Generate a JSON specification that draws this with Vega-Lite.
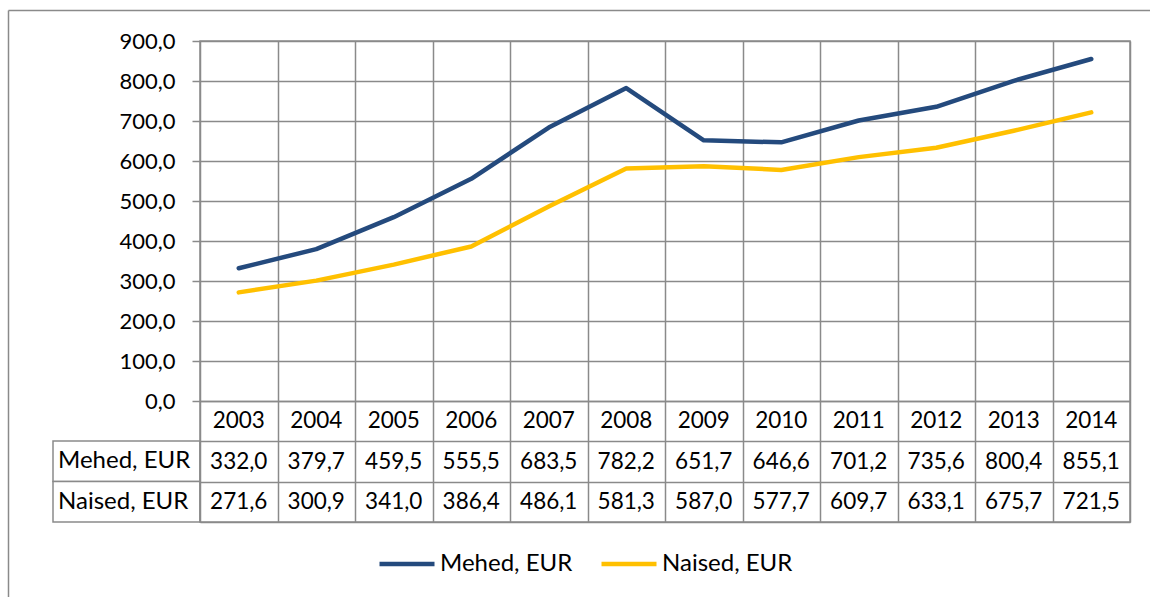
{
  "$schema": "https://vega.github.io/schema/vega-lite/v6.json",
  "padding": {"left": 7, "top": 9, "right": 0, "bottom": 0},
  "background": "white",
  "config": {
    "font": "Lato",
    "locale": {"number": {"decimal": ",", "thousands": " ", "grouping": [3], "currency": ["", " €"]}},
    "view": {"stroke": "#8a8a8a", "strokeWidth": 1.5},
    "axis": {"gridColor": "#8a8a8a", "gridWidth": 1.5, "gridOpacity": 1, "labelFont": "Lato", "labelColor": "#000000", "labelFontSize": 22, "title": null}
  },
  "datasets": {
    "d": [
      {"year": "2003", "series": "Mehed, EUR", "value": 332.0},
      {"year": "2004", "series": "Mehed, EUR", "value": 379.7},
      {"year": "2005", "series": "Mehed, EUR", "value": 459.5},
      {"year": "2006", "series": "Mehed, EUR", "value": 555.5},
      {"year": "2007", "series": "Mehed, EUR", "value": 683.5},
      {"year": "2008", "series": "Mehed, EUR", "value": 782.2},
      {"year": "2009", "series": "Mehed, EUR", "value": 651.7},
      {"year": "2010", "series": "Mehed, EUR", "value": 646.6},
      {"year": "2011", "series": "Mehed, EUR", "value": 701.2},
      {"year": "2012", "series": "Mehed, EUR", "value": 735.6},
      {"year": "2013", "series": "Mehed, EUR", "value": 800.4},
      {"year": "2014", "series": "Mehed, EUR", "value": 855.1},
      {"year": "2003", "series": "Naised, EUR", "value": 271.6},
      {"year": "2004", "series": "Naised, EUR", "value": 300.9},
      {"year": "2005", "series": "Naised, EUR", "value": 341.0},
      {"year": "2006", "series": "Naised, EUR", "value": 386.4},
      {"year": "2007", "series": "Naised, EUR", "value": 486.1},
      {"year": "2008", "series": "Naised, EUR", "value": 581.3},
      {"year": "2009", "series": "Naised, EUR", "value": 587.0},
      {"year": "2010", "series": "Naised, EUR", "value": 577.7},
      {"year": "2011", "series": "Naised, EUR", "value": 609.7},
      {"year": "2012", "series": "Naised, EUR", "value": 633.1},
      {"year": "2013", "series": "Naised, EUR", "value": 675.7},
      {"year": "2014", "series": "Naised, EUR", "value": 721.5}
    ],
    "labels": [
      {"label": "Mehed, EUR"},
      {"label": "Naised, EUR"}
    ]
  },
  "hconcat": [
    {
      "width": 147,
      "height": 481,
      "view": {"stroke": null},
      "data": {"name": "labels"},
      "layer": [
        {
          "mark": {"type": "rect", "fill": "white", "stroke": "#8a8a8a", "strokeWidth": 1.5},
          "encoding": {
            "y": {"field": "label", "type": "nominal", "scale": {"domain": ["Mehed, EUR", "Naised, EUR"], "range": [400, 481], "paddingInner": 0, "paddingOuter": 0}, "axis": null}
          }
        },
        {
          "mark": {"type": "text", "align": "left", "baseline": "middle", "dx": -68.5, "fontSize": 24, "font": "Lato", "color": "#000000"},
          "encoding": {
            "y": {"field": "label", "type": "nominal", "scale": {"domain": ["Mehed, EUR", "Naised, EUR"], "range": [400, 481], "paddingInner": 0, "paddingOuter": 0}, "axis": null},
            "text": {"field": "label"}
          }
        }
      ]
    },
    {
      "width": 930,
      "height": 481,
      "layer": [
        {
          "data": {"name": "d"},
          "mark": {"type": "line", "strokeWidth": 4.5, "strokeCap": "round", "strokeJoin": "round"},
          "encoding": {
            "x": {"field": "year", "type": "nominal", "scale": {"type": "band", "paddingInner": 0, "paddingOuter": 0},
                  "axis": {"orient": "bottom", "grid": true, "tickBand": "extent", "labels": false, "ticks": false, "domain": false}},
            "y": {"field": "value", "type": "quantitative", "scale": {"domain": [-302.5, 900], "nice": false, "zero": false},
                  "axis": {"orient": "left", "values": [0, 100, 200, 300, 400, 500, 600, 700, 800, 900], "format": ".1f", "grid": true, "ticks": true, "tickSize": 8, "tickColor": "#8a8a8a", "tickWidth": 1.5, "domain": false, "labelPadding": 17}},
            "color": {"field": "series", "type": "nominal",
                      "scale": {"domain": ["Mehed, EUR", "Naised, EUR"], "range": ["#244A7D", "#FFC000"]},
                      "legend": {"orient": "none", "legendX": 324, "legendY": 493, "direction": "horizontal", "title": null, "symbolType": "stroke", "symbolSize": 3025, "symbolStrokeWidth": 4.5, "labelFontSize": 24, "labelFont": "Lato", "labelColor": "#000000", "labelOffset": 3, "columnPadding": 19}}
          }
        },
        {
          "data": {"name": "d"},
          "mark": {"type": "text", "baseline": "middle", "fontSize": 22.5, "font": "Lato", "color": "#000000"},
          "encoding": {
            "x": {"field": "year", "type": "nominal", "scale": {"type": "band", "paddingInner": 0, "paddingOuter": 0}, "axis": null},
            "y": {"field": "series", "type": "nominal", "scale": {"domain": ["Year", "Mehed, EUR", "Naised, EUR"], "range": [360, 481], "paddingInner": 0, "paddingOuter": 0},
                  "axis": {"orient": "left", "grid": true, "tickBand": "extent", "labels": false, "ticks": false, "domain": false}},
            "text": {"field": "value", "type": "quantitative", "format": ".1f"}
          }
        },
        {
          "data": {"name": "d"},
          "transform": [{"filter": "datum.series === 'Mehed, EUR'"}],
          "mark": {"type": "text", "baseline": "middle", "fontSize": 22.5, "font": "Lato", "color": "#000000"},
          "encoding": {
            "x": {"field": "year", "type": "nominal", "scale": {"type": "band", "paddingInner": 0, "paddingOuter": 0}, "axis": null},
            "y": {"datum": "Year", "type": "nominal", "scale": {"domain": ["Year", "Mehed, EUR", "Naised, EUR"], "range": [360, 481], "paddingInner": 0, "paddingOuter": 0}, "axis": null},
            "text": {"field": "year"}
          }
        },
        {
          "data": {"values": []},
          "mark": {"type": "point", "opacity": 0},
          "encoding": {
            "x": {"field": "fx", "type": "quantitative", "scale": {"domain": [0, 1], "range": [-192, 1100], "nice": false, "zero": false},
                  "axis": {"orient": "top", "offset": 31, "domain": true, "domainColor": "#8a8a8a", "domainWidth": 1.5, "labels": false, "ticks": false, "grid": false}},
            "y": {"field": "fy", "type": "quantitative", "scale": {"domain": [0, 1], "range": [-31, 700], "nice": false, "zero": false},
                  "axis": {"orient": "left", "offset": 192, "domain": true, "domainColor": "#8a8a8a", "domainWidth": 1.5, "labels": false, "ticks": false, "grid": false}}
          }
        }
      ],
      "resolve": {"scale": {"x": "independent", "y": "independent"}, "axis": {"x": "independent", "y": "independent"}}
    }
  ],
  "spacing": 0,
  "bounds": "flush"
}
